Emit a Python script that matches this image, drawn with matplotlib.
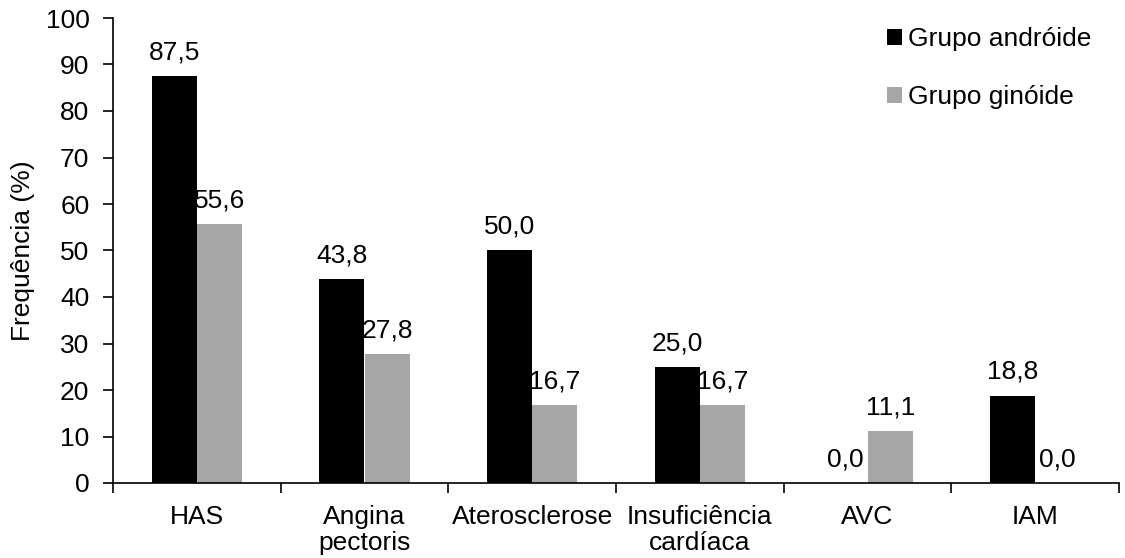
import matplotlib
matplotlib.use("Agg")
import matplotlib.pyplot as plt
import numpy as np

categories = ["HAS", "Angina\npectoris", "Aterosclerose", "Insuficiência\ncardíaca", "AVC", "IAM"]
androide = [87.5, 43.8, 50.0, 25.0, 0.0, 18.8]
ginoide = [55.6, 27.8, 16.7, 16.7, 11.1, 0.0]
series_names = ["Grupo andróide", "Grupo ginóide"]

FS = 19
plt.rcParams["font.family"] = ["Liberation Sans", "DejaVu Sans"]
plt.rcParams["font.size"] = FS

W, H = 1125, 558
fig = plt.figure(figsize=(W / 100, H / 100), dpi=100)
ax = fig.add_axes([113 / W, (H - 483) / H, (1119 - 113) / W, (483 - 18) / H])

x = np.arange(len(categories))
w = 0.27
b1 = ax.bar(x - w / 2, androide, w, color="#000000", label=series_names[0])
b2 = ax.bar(x + w / 2, ginoide, w, color="#a6a6a6", label=series_names[1])

def fmt(v):
    return f"{v:.1f}".replace(".", ",")

for bars, vals in ((b1, androide), (b2, ginoide)):
    for rect, v in zip(bars, vals):
        ax.annotate(fmt(v), (rect.get_x() + rect.get_width() / 2, v),
                    xytext=(0, 12), textcoords="offset points",
                    ha="center", va="baseline", fontsize=FS)

ax.set_xlim(-0.5, len(categories) - 0.5)
ax.set_ylim(0, 100)
ax.set_yticks(np.arange(0, 101, 10))
ax.set_xticks(np.arange(-0.5, len(categories), 1.0))
ax.set_xticklabels([])
ax.set_xticks(x, minor=True)
ax.set_xticklabels(categories, minor=True, linespacing=1.1)
ax.tick_params(axis="x", which="minor", length=0, pad=16)
ax.tick_params(axis="x", which="major", length=7, width=1.2, direction="out")
ax.tick_params(axis="y", length=7, width=1.2, direction="out", pad=10)
for side in ("top", "right"):
    ax.spines[side].set_visible(False)
for side in ("left", "bottom"):
    ax.spines[side].set_linewidth(1.2)

ax.set_ylabel("Frequência (%)", fontsize=FS)
ax.yaxis.set_label_coords((35 - 113) / (1119 - 113), 0.5)

ax.legend(loc="upper left", bbox_to_anchor=(887 / W, (H - 27) / H),
          bbox_transform=fig.transFigure, frameon=False,
          handlelength=0.57, handleheight=0.57, handletextpad=0.23,
          labelspacing=1.29, fontsize=FS, borderaxespad=0, borderpad=0)

fig.savefig("out.png", dpi=100)
